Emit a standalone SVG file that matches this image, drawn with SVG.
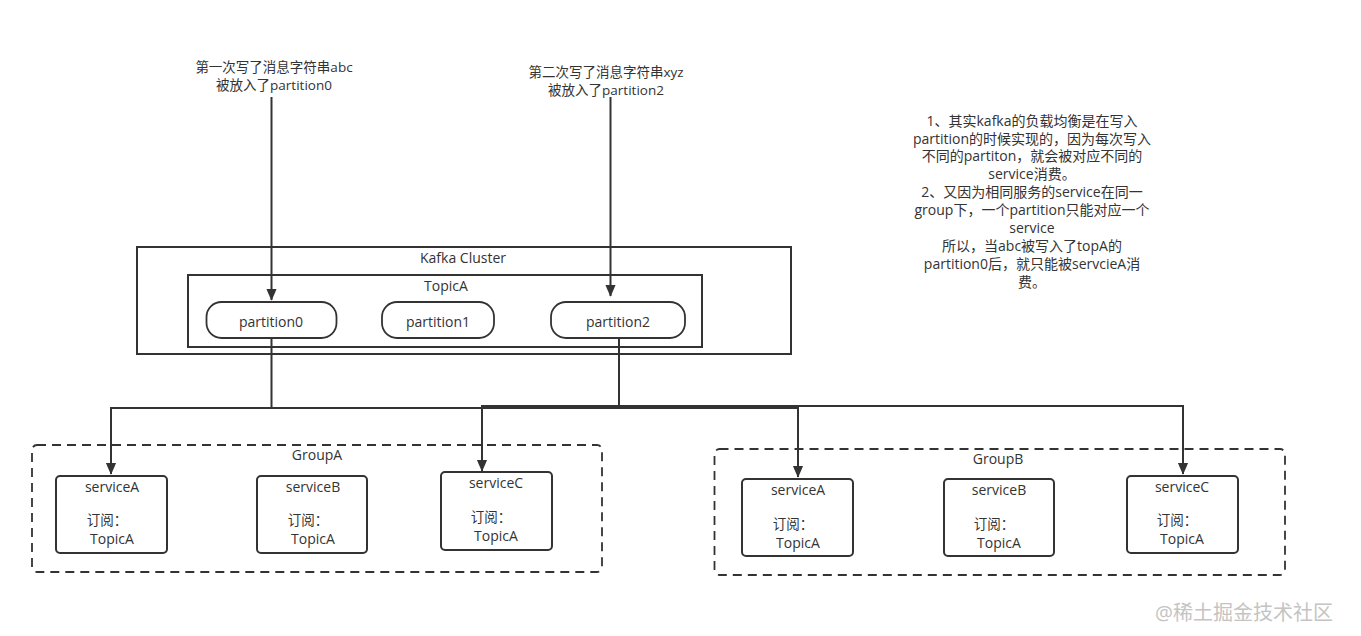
<svg xmlns="http://www.w3.org/2000/svg" width="1361" height="636" viewBox="0 0 1361 636">
<defs>
<marker id="ad" markerUnits="userSpaceOnUse" markerWidth="12" markerHeight="14" viewBox="0 0 14 12" refX="13" refY="6" orient="auto">
<path d="M0,0 L14,6 L0,12 Z" fill="#333"/>
</marker>
</defs>
<style>
text{font-family:"Open Sans","Noto Sans CJK SC",sans-serif;font-size:14px;fill:#333;text-anchor:middle;dominant-baseline:central}
.sm{font-size:13.5px}
.box{fill:#fff;stroke:#333;stroke-width:2}
.pill{fill:#fff;stroke:#333;stroke-width:1.8}
.svc{fill:#fff;stroke:#333;stroke-width:2}
.grp{fill:none;stroke:#333;stroke-width:1.8;stroke-dasharray:9 6}
.conn{fill:none;stroke:#333;stroke-width:2}
.wm{font-size:20px;fill:#c4c4c4;text-anchor:start}
</style>
<rect width="1361" height="636" fill="#fff"/>

<g id="note1">
<text class="sm" x="274" y="67">第一次写了消息字符串abc</text>
<text class="sm" x="274" y="85">被放入了partition0</text>
</g>
<g id="note2">
<text class="sm" x="606" y="72">第二次写了消息字符串xyz</text>
<text class="sm" x="606" y="90">被放入了partition2</text>
</g>
<g id="note3">
<text x="1032" y="120">1、其实kafka的负载均衡是在写入</text>
<text x="1032" y="138">partition的时候实现的，因为每次写入</text>
<text x="1032" y="155">不同的partiton，就会被对应不同的</text>
<text x="1032" y="173">service消费。</text>
<text x="1032" y="191">2、又因为相同服务的service在同一</text>
<text x="1032" y="209">group下，一个partition只能对应一个</text>
<text x="1032" y="227">service</text>
<text x="1032" y="245">所以，当abc被写入了topA的</text>
<text x="1032" y="263">partition0后，就只能被servcieA消</text>
<text x="1032" y="281">费。</text>
</g>

<g id="kafka-cluster">
<rect class="box" x="137" y="247" width="654" height="107"/>
<text x="463" y="257">Kafka Cluster</text>
</g>
<g id="topicA">
<rect class="box" x="188" y="275" width="514" height="72"/>
<text x="446" y="285">TopicA</text>
</g>
<g id="partition0">
<rect class="pill" x="206.5" y="302" width="130" height="36" rx="15"/>
<text x="271" y="321">partition0</text>
</g>
<g id="partition1">
<rect class="pill" x="382" y="302" width="112" height="36" rx="15"/>
<text x="438" y="321">partition1</text>
</g>
<g id="partition2">
<rect class="pill" x="551" y="302" width="134" height="36" rx="15"/>
<text x="618" y="321">partition2</text>
</g>

<g id="groupA">
<rect class="grp" x="32" y="445" width="570" height="127" rx="5"/>
<text x="317" y="454">GroupA</text>
</g>
<g id="groupA-serviceA">
<rect class="svc" x="56" y="476" width="111" height="77" rx="4"/>
<text x="112" y="486">serviceA</text>
<text class="sm" x="107" y="520">订阅：</text>
<text x="112" y="538">TopicA</text>
</g>
<g id="groupA-serviceB">
<rect class="svc" x="257" y="476" width="110" height="77" rx="4"/>
<text x="313" y="486">serviceB</text>
<text class="sm" x="308" y="520">订阅：</text>
<text x="313" y="538">TopicA</text>
</g>
<g id="groupA-serviceC">
<rect class="svc" x="441" y="472" width="111" height="78" rx="4"/>
<text x="496" y="482">serviceC</text>
<text class="sm" x="491" y="517">订阅：</text>
<text x="496" y="535">TopicA</text>
</g>

<g id="groupB">
<rect class="grp" x="714.5" y="449" width="570.5" height="126" rx="5"/>
<text x="998" y="458">GroupB</text>
</g>
<g id="groupB-serviceA">
<rect class="svc" x="742" y="479" width="111" height="77" rx="4"/>
<text x="798" y="489">serviceA</text>
<text class="sm" x="793" y="524">订阅：</text>
<text x="798" y="542">TopicA</text>
</g>
<g id="groupB-serviceB">
<rect class="svc" x="944" y="479" width="110" height="77" rx="4"/>
<text x="999" y="489">serviceB</text>
<text class="sm" x="994" y="524">订阅：</text>
<text x="999" y="542">TopicA</text>
</g>
<g id="groupB-serviceC">
<rect class="svc" x="1127" y="476" width="111" height="77" rx="4"/>
<text x="1182" y="486">serviceC</text>
<text class="sm" x="1177" y="520">订阅：</text>
<text x="1182" y="538">TopicA</text>
</g>

<g id="connectors">
<path class="conn" d="M271.5,97 V300" marker-end="url(#ad)"/>
<path class="conn" d="M610.5,97 V296" marker-end="url(#ad)"/>
<path class="conn" d="M271.5,338 V408 H111 V474" marker-end="url(#ad)"/>
<path class="conn" d="M271.5,408 H798 V477" marker-end="url(#ad)"/>
<path class="conn" d="M619,338 V406 H482 V471" marker-end="url(#ad)"/>
<path class="conn" d="M619,406 H1183 V474" marker-end="url(#ad)"/>
</g>

<text class="wm" x="1155" y="612">@稀土掘金技术社区</text>
</svg>
